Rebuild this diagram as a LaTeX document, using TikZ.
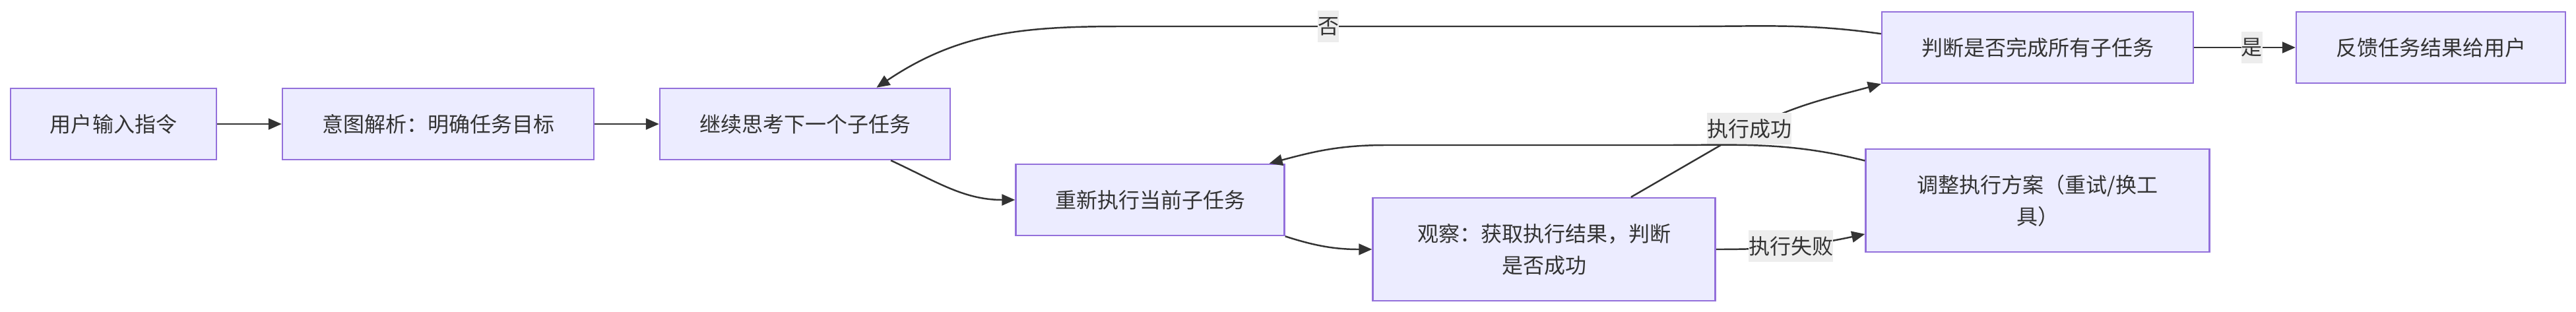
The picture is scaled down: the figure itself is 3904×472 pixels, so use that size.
\documentclass[tikz,border=0pt]{standalone}
\usepackage{fontspec}
\setmainfont{Noto Sans CJK SC}
\usepackage{xcolor}
\usetikzlibrary{arrows.meta}
\definecolor{boxFill}{HTML}{ECECFF}
\definecolor{boxLine}{HTML}{9370DB}
\definecolor{edgeLine}{HTML}{333333}
\definecolor{labelFill}{HTML}{EDEDED}
\def\px{0.01cm}
\def\oneLine{108}
\def\twoLine{156}

\begin{document}
\begin{tikzpicture}[
    x=\px, y=-\px,
    line width=0.7pt,
    color=edgeLine,
    >={Triangle[length=0.2cm,width=0.17cm]},
    every node/.style={text=edgeLine, font=\fontsize{9.1}{13.7}\selectfont, align=center},
    box/.style={rectangle, draw=boxLine, fill=boxFill, inner sep=0pt, minimum height=\oneLine*\px},
    lbl/.style={fill=labelFill, inner sep=0pt, minimum height=48*\px}
]
\useasboundingbox (0,0) rectangle (3904,472);

% boxes
\node[box, minimum width=312*\px] (1) at (172,188) {用户输入指令};
\node[box, minimum width=472*\px] (2) at (664,188) {意图解析：明确任务目标};
\node[box, minimum width=440*\px] (3) at (1220,188) {继续思考下一个子任务};
\node[box, minimum width=407*\px] (4) at (1743,303) {重新执行当前子任务};
\node[box, minimum width=519*\px, minimum height=\twoLine*\px] (5) at (2340,378) {观察：获取执行结果，判断\\是否成功};
\node[box, minimum width=472*\px] (6) at (3088,72) {判断是否完成所有子任务};
\node[box, minimum width=408*\px] (7) at (3684,72) {反馈任务结果给用户};
\node[box, minimum width=521*\px, minimum height=\twoLine*\px] (8) at (3088,304) {调整执行方案（重试/换工\\具）};

% main flow
\draw[->] (1) -- (2);
\draw[->] (2) -- (3);
\draw[->] (3.-23) to[out=-25,in=180] (4.west);
\draw[->] (4.south east) to[out=-18,in=180] (5.west);
\draw[->] (5.31) -- (2620,213) to[out=31,in=195] node[lbl,pos=0.13] {执行成功} (6.south west);
\draw[->] (5.east) to[out=0,in=192] node[lbl,pos=0.5] {执行失败} (8.191);
\draw[->] (6.east) -- node[lbl,pos=0.57] {是} (7.west);

% loops back
\draw[->] (8.167) to[out=166,in=0] (2520,220) -- (2100,220) to[out=180,in=15] (4.17);
\draw[->] (6.175) to[out=172,in=0] (2560,40) -- node[lbl,pos=0.636] {否} (1700,40) to[out=180,in=34] (3.27);
\end{tikzpicture}
\end{document}
